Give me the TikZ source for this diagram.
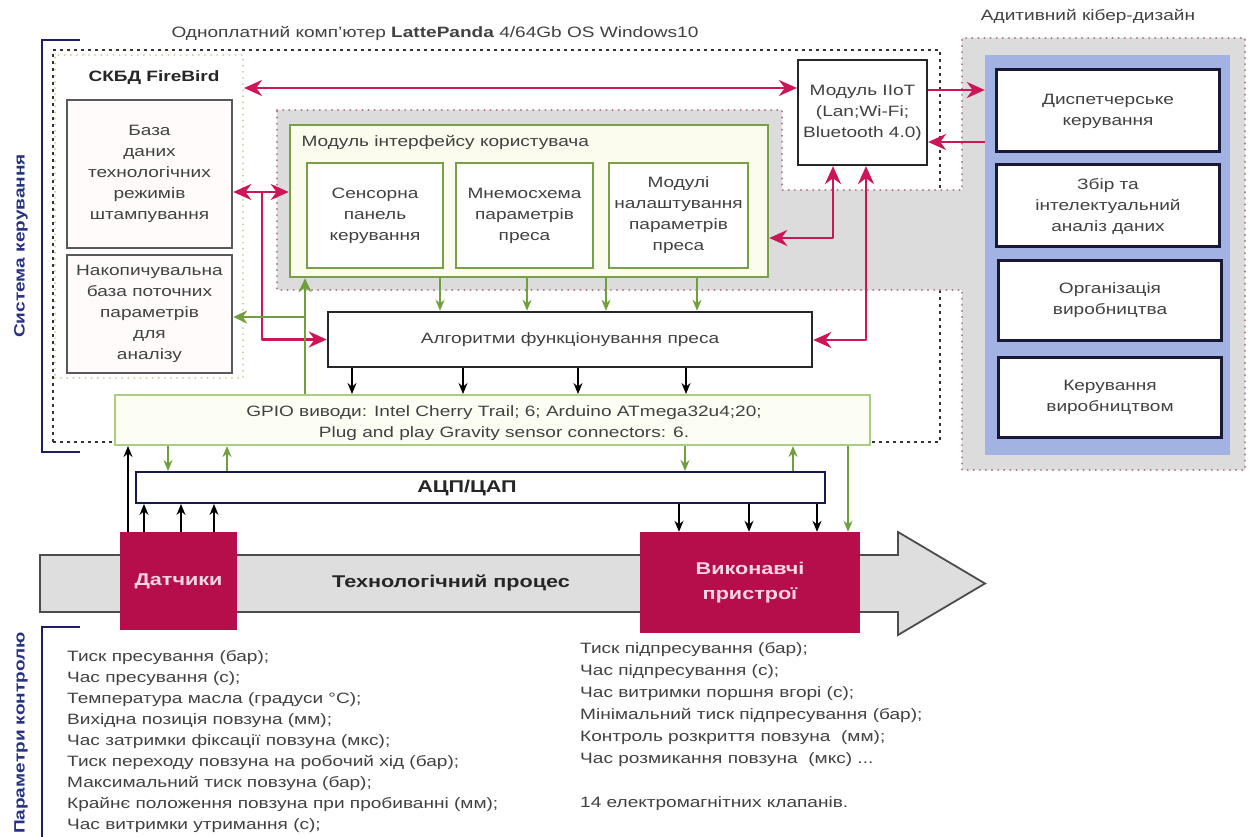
\documentclass[tikz,border=0pt]{standalone}
\usepackage{fontspec}
\setmainfont{Liberation Sans}[FakeStretch=1.27]
\usetikzlibrary{arrows.meta}
\definecolor{crim}{RGB}{204,22,88}
\definecolor{boxred}{RGB}{182,14,74}
\definecolor{grnA}{RGB}{112,160,60}
\definecolor{grnB}{RGB}{120,160,70}
\definecolor{lgrn}{RGB}{172,204,132}
\definecolor{navyL}{RGB}{30,30,100}
\definecolor{navyT}{RGB}{40,50,130}
\definecolor{gfill}{RGB}{220,220,220}
\definecolor{bluefill}{RGB}{162,178,226}
\definecolor{txt}{RGB}{65,65,65}
\definecolor{pinkdot}{RGB}{180,120,130}
\definecolor{fbdot}{RGB}{214,204,150}
\definecolor{boxfill}{RGB}{255,251,251}
\definecolor{uifill}{RGB}{251,252,238}
\definecolor{gpiofill}{RGB}{252,254,244}
\definecolor{procfill}{RGB}{222,222,222}
\definecolor{lighttxt}{RGB}{250,215,228}
\definecolor{cybline}{RGB}{25,25,55}
\tikzset{
  ptip/.tip={Stealth[length=18pt,width=16pt]},
  gtip/.tip={Stealth[length=14pt,width=13pt]},
  stip/.tip={Stealth[length=11pt,width=9pt]},
  tx/.style={text=txt, font=\fontsize{15}{21}\selectfont, align=center},
  bt/.style={text=black!85, font=\fontsize{17}{23}\selectfont\bfseries, align=center},
  btm/.style={text=black!85, font=\fontsize{15}{21}\selectfont\bfseries, align=center},
  dbbox/.style={draw=black!65, line width=2.5pt, fill=boxfill, inner sep=2pt},
  uibox/.style={draw=grnB, line width=2.5pt, fill=uifill},
  inbox/.style={draw=grnB, line width=2.2pt, fill=white, inner sep=2pt},
  plainbox/.style={draw=black!85, line width=2.2pt, fill=white, inner sep=2pt},
  gpiobox/.style={draw=lgrn, line width=2pt, fill=gpiofill, inner sep=2pt},
  adcbox/.style={draw=navyL!80!black, line width=2pt, fill=white, inner sep=2pt},
  redbox/.style={fill=boxred, draw=none, text=lighttxt, font=\fontsize{17}{25}\selectfont\bfseries, align=center},
  cybbox/.style={draw=cybline, line width=3pt, fill=white, inner sep=2pt, text=txt, font=\fontsize{15}{21}\selectfont, align=center},
  lpbox/.style={draw=black!80, line width=1.6pt, dash pattern=on 3pt off 4pt},
  fbbox/.style={draw=fbdot, line width=2pt, dash pattern=on 0.1pt off 6pt, line cap=round},
  grayreg/.style={fill=gfill, draw=pinkdot, line width=2.2pt, dash pattern=on 0.1pt off 6pt, line cap=round},
  pk/.style={draw=crim, line width=2.8pt, line join=round, -ptip},
  pkb/.style={draw=crim, line width=2.8pt, line join=round, ptip-ptip},
  gk/.style={draw=grnA, line width=2.6pt, -gtip},
  gs/.style={draw=grnA, line width=1.6pt, -stip},
  bs/.style={draw=black, line width=1.3pt, -stip},
  procarrow/.style={fill=procfill, draw=black!70, line width=1.8pt, line join=miter}
}
\begin{document}
\begin{tikzpicture}[x=1pt,y=-1pt]
\useasboundingbox (0,0) rectangle (1253,837);
\fill[white] (0,0) rectangle (1253,837);

% headers
\node[tx, anchor=west] (hdr) at (168,33) {Одноплатний комп’ютер \textbf{LattePanda} 4/64Gb OS Windows10};
\node[tx] (hdr2) at (1088,16) {Адитивний кібер-дизайн};

% brackets and side labels
\draw[navyL, line width=1.8pt] (80,40) -- (42,40) -- (42,452) -- (80,452);
\draw[navyL, line width=1.8pt] (80,627) -- (42,627) -- (42,837);
\node[rotate=90, btm, text=navyT] (lblA) at (21,246) {Система керування};
\node[rotate=90, btm, text=navyT] (lblB) at (21,733) {Параметри контролю};

% LattePanda frame
\node[lpbox, minimum width=887, minimum height=392] (lp) at (496.5,246) {};

% gray region
\draw[grayreg] (277,110) -- (782,110) -- (782,190) -- (962,190) -- (962,38) -- (1245,38) -- (1245,470) -- (962,470) -- (962,290) -- (277,290) -- cycle;

% cyber design
\node[fill=bluefill, minimum width=245, minimum height=400, inner sep=0] (cyb) at (1107.5,255) {};
\node[cybbox, minimum width=223, minimum height=82] (c1) at (1108,111) {Диспетчерське\\керування};
\node[cybbox, minimum width=223, minimum height=82] (c2) at (1108,206) {Збір та\\інтелектуальний\\аналіз даних};
\node[cybbox, minimum width=223, minimum height=80] (c3) at (1110,300) {Організація\\виробництва};
\node[cybbox, minimum width=223, minimum height=80] (c4) at (1110,397) {Керування\\виробництвом};

% FireBird
\node[fbbox, minimum width=188, minimum height=323] (fb) at (149,216.5) {};
\node[btm, anchor=west] (fbl) at (85,78) {СКБД FireBird};
\node[dbbox, tx, minimum width=165, minimum height=148] (db1) at (149.5,174) {База\\даних\\технологічних\\режимів\\штампування};
\node[dbbox, tx, minimum width=165, minimum height=118] (db2) at (149.5,314) {Накопичувальна\\база поточних\\параметрів\\для\\аналізу};

% user interface module
\node[uibox, minimum width=478, minimum height=152] (ui) at (529,201) {};
\node[tx, anchor=west] (uil) at (298,142) {Модуль інтерфейсу користувача};
\node[inbox, tx, minimum width=136, minimum height=105] (s1) at (375,215.5) {Сенсорна\\панель\\керування};
\node[inbox, tx, minimum width=137, minimum height=105] (s2) at (524.5,215.5) {Мнемосхема\\параметрів\\преса};
\node[inbox, tx, minimum width=139, minimum height=105] (s3) at (678.5,215.5) {Модулі\\налаштування\\параметрів\\преса};

% IIoT
\node[plainbox, tx, minimum width=129, minimum height=105] (iiot) at (862.5,112.5) {Модуль IIoT\\(Lan;Wi-Fi;\\Bluetooth 4.0)};

% algorithms, GPIO, ADC
\node[plainbox, line width=2.5pt, minimum width=484, minimum height=55] (algo) at (570,339.5) {};
\node[tx] (algol) at (570,340) {Алгоритми функціонування преса};
\node[gpiobox, minimum width=755, minimum height=50] (gpio) at (492.5,420) {};
\node[tx] (gpiol) at (504,423) {GPIO виводи: Intel Cherry Trail; 6; Arduino ATmega32u4;20;\\Plug and play Gravity sensor connectors: 6.};
\node[adcbox, minimum width=689, minimum height=31] (adc) at (480.5,487.5) {};
\node[bt] (adcl) at (467,488) {АЦП/ЦАП};

% process arrow
\draw[procarrow] (40,555) -- (898,555) -- (898,532) -- (985,583.5) -- (898,635) -- (898,612) -- (40,612) -- cycle;
\node[bt] (procl) at (451,583) {Технологічний процес};
\node[redbox, minimum width=117, minimum height=98] (sens) at (178.5,581) {Датчики};
\node[redbox, minimum width=220, minimum height=101] (act) at (750,582.5) {Виконавчі\\пристрої};

% parameter lists
\node[tx, align=left, anchor=north west, inner sep=0] (plist) at (67,650) {Тиск пресування (бар);\\Час пресування (с);\\Температура масла (градуси °C);\\Вихідна позиція повзуна (мм);\\Час затримки фіксації повзуна (мкс);\\Тиск переходу повзуна на робочий хід (бар);\\Максимальний тиск повзуна (бар);\\Крайнє положення повзуна при пробиванні (мм);\\Час витримки утримання (с);};
\node[tx, font=\fontsize{15}{22}\selectfont, align=left, anchor=north west, inner sep=0] (alist) at (580,642) {Тиск підпресування (бар);\\Час підпресування (с);\\Час витримки поршня вгорі (с);\\Мінімальний тиск підпресування (бар);\\Контроль розкриття повзуна~ (мм);\\Час розмикання повзуна~ (мкс) ...\\[22pt]14 електромагнітних клапанів.};

% helper coordinates
\coordinate (y88) at (0,88);
\coordinate (y90) at (0,90);
\coordinate (y142) at (0,142);
\coordinate (y192) at (0,192);
\coordinate (j1) at (262,192);
\coordinate (g1) at (305,317);
\coordinate (p1) at (833,238);
\coordinate (p2) at (866,340);

% crimson connectors
\draw[pkb] (fb.east |- y88) -- (iiot.west |- y88);
\draw[pk] (iiot.east |- y90) -- (cyb.west |- y90);
\draw[pk] (cyb.west |- y142) -- (iiot.east |- y142);
\draw[pkb] (db1.east |- y192) -- (ui.west |- y192);
\draw[pk] (j1) |- (algo.west);
\draw[pkb] (iiot.south -| p1) -- (p1) -- (ui.east |- p1);
\draw[pkb] (iiot.south -| p2) -- (p2) -- (algo.east |- p2);

% green connectors
\draw[gk] (gpio.north -| g1) -- (ui.south -| g1);
\draw[gk] (g1) -- (db2.east |- g1);
\foreach \x in {440,527,606,697} {
  \coordinate (t) at (\x,0);
  \draw[gs] (ui.south -| t) -- (algo.north -| t);
}
\foreach \x/\d in {168/1,227/0,685/1,793/0} {
  \coordinate (t) at (\x,0);
  \ifnum\d=1 \draw[gs] (gpio.south -| t) -- (adc.north -| t);
  \else \draw[gs] (adc.north -| t) -- (gpio.south -| t); \fi
}
\coordinate (t848) at (848,0);
\draw[gs] (gpio.south -| t848) -- (act.north -| t848);

% black connectors
\foreach \x in {352,463,578,686} {
  \coordinate (t) at (\x,0);
  \draw[bs] (algo.south -| t) -- (gpio.north -| t);
}
\coordinate (t128) at (128,0);
\draw[bs] (sens.north -| t128) -- (gpio.south -| t128);
\foreach \x in {144,181,214} {
  \coordinate (t) at (\x,0);
  \draw[bs] (sens.north -| t) -- (adc.south -| t);
}
\foreach \x in {679,749,817} {
  \coordinate (t) at (\x,0);
  \draw[bs] (adc.south -| t) -- (act.north -| t);
}
\end{tikzpicture}
\end{document}
